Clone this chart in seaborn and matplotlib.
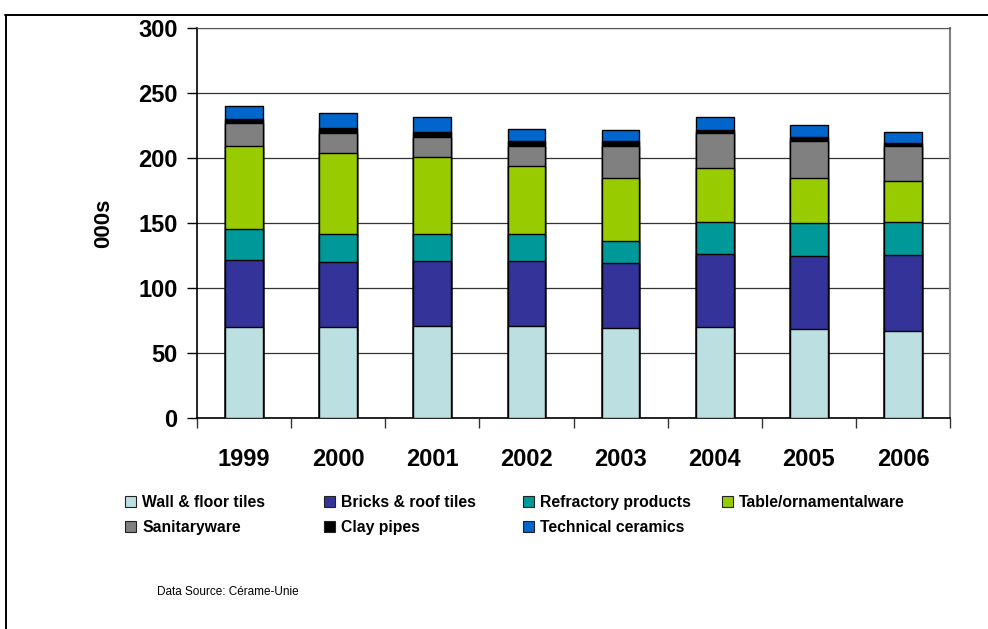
import numpy as np
import pandas as pd
import matplotlib
matplotlib.use("Agg")
import matplotlib.pyplot as plt
from matplotlib.patches import Patch
from matplotlib.lines import Line2D
import seaborn as sns

# Production by ceramics sector, thousands of tonnes
years = ["1999", "2000", "2001", "2002", "2003", "2004", "2005", "2006"]
wall_floor_tiles = [70.0, 69.8, 70.8, 70.5, 68.8, 69.8, 68.2, 66.7]
bricks_roof_tiles = [51.5, 50.0, 50.0, 49.8, 50.4, 55.9, 55.9, 58.2]
refractory_products = [23.7, 21.3, 21.0, 20.8, 17.2, 24.6, 25.7, 25.6]
table_ornamentalware = [64.0, 62.5, 59.0, 52.3, 48.5, 42.3, 35.1, 31.6]
sanitaryware = [17.3, 15.6, 15.4, 15.6, 24.1, 26.6, 28.2, 26.9]
clay_pipes = [3.3, 3.6, 3.6, 3.8, 3.8, 2.6, 2.8, 2.3]
technical_ceramics = [10.2, 11.6, 11.7, 9.8, 9.0, 9.5, 9.8, 9.0]

series_names = ["Wall & floor tiles", "Bricks & roof tiles", "Refractory products",
                "Table/ornamentalware", "Sanitaryware", "Clay pipes", "Technical ceramics"]
series_values = [wall_floor_tiles, bricks_roof_tiles, refractory_products,
                 table_ornamentalware, sanitaryware, clay_pipes, technical_ceramics]
series_colors = ["#BCE0E2", "#333399", "#009999", "#99CC00", "#808080", "#000000", "#0066CC"]

y_ticks = [0, 50, 100, 150, 200, 250, 300]

sns.set_style("white")
plt.rcParams["font.family"] = ["Liberation Sans", "DejaVu Sans"]
plt.rcParams["text.color"] = "black"
plt.rcParams["axes.labelcolor"] = "black"
plt.rcParams["xtick.color"] = "black"
plt.rcParams["ytick.color"] = "black"

df = pd.DataFrame(dict(zip(series_names, series_values)), index=years)
cum = df.cumsum(axis=1)

fig = plt.figure(figsize=(9.88, 6.29), dpi=100)
ax = fig.add_axes([197 / 988, 1 - 417.7 / 629, (950 - 197) / 988, (417.7 - 28) / 629])

# stacked bars: draw cumulative totals from the top series downward
for name, color in reversed(list(zip(series_names, series_colors))):
    sns.barplot(x=years, y=cum[name].values, color=color, width=0.4,
                edgecolor="black", linewidth=1.0, saturation=1, ax=ax, zorder=3)

ax.set_ylim(0, 300)
ax.set_xlim(-0.5, len(years) - 0.5)
ax.set_yticks(y_ticks)
ax.set_yticklabels([str(v) for v in y_ticks], fontsize=17, fontweight="bold",
                   color="black")
ax.yaxis.grid(True, color="#333333", linewidth=0.9, zorder=0)
ax.set_axisbelow(True)
ax.tick_params(axis="y", which="major", direction="out", length=7, width=1,
               color="black", pad=7, left=True)

ax.set_xticks(range(len(years)))
ax.set_xticklabels(years, fontsize=17, fontweight="bold", color="black")
ax.tick_params(axis="x", which="major", length=0, pad=22)
ax.set_xticks(np.arange(-0.5, len(years), 1.0), minor=True)
ax.tick_params(axis="x", which="minor", direction="out", length=7, width=1,
               color="#333333", bottom=True)

for side in ["left", "bottom"]:
    ax.spines[side].set_color("black")
    ax.spines[side].set_linewidth(1.2)
ax.spines["top"].set_color("#555555")
ax.spines["right"].set_color("#808080")
ax.spines["right"].set_linewidth(1.5)

ax.set_xlabel("")
ax.set_ylabel("000s", fontsize=16, fontweight="bold", color="black")
ax.yaxis.set_label_coords((114 - 197) / (950 - 197), 0.5)

# legend: one entry per cell of a 4-column grid, row-major order
col_x = [125, 324, 523, 722]
row_y = [502.7, 527.7]
for i, (name, color) in enumerate(zip(series_names, series_colors)):
    cx = col_x[i % 4]
    cy = row_y[i // 4]
    handle = Patch(facecolor=color, edgecolor="#222222", linewidth=0.8)
    fig.legend([handle], [name], loc="center left",
               bbox_to_anchor=(cx / 988, 1 - cy / 629),
               frameon=False, handlelength=0.7, handleheight=0.7,
               handletextpad=0.4, borderpad=0, borderaxespad=0,
               prop={"size": 11.3, "weight": "bold"}, labelcolor="black")

fig.text(157 / 988, 1 - 592 / 629, "Data Source: Cérame-Unie", fontsize=8.5,
         va="center", ha="left", color="black")

# outer frame
fig.add_artist(Line2D([5 / 988, 1.0], [1 - 15 / 629, 1 - 15 / 629],
                      transform=fig.transFigure, color="black", linewidth=1.4))
fig.add_artist(Line2D([5.5 / 988, 5.5 / 988], [1 - 15 / 629, 0.0],
                      transform=fig.transFigure, color="black", linewidth=1.4))

fig.savefig("out.png", dpi=100)
